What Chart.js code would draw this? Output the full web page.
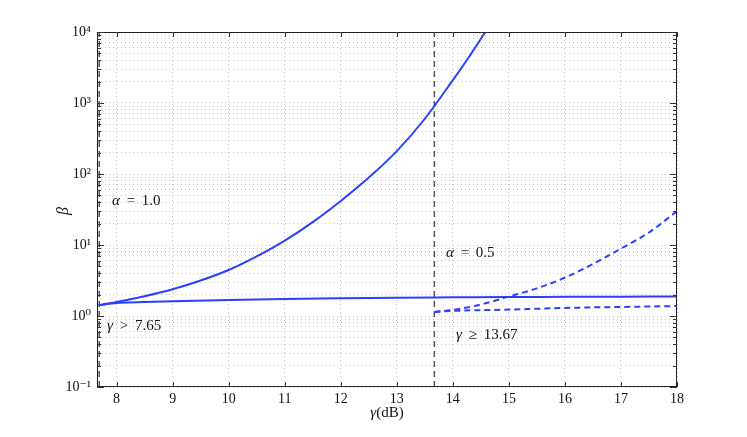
<!DOCTYPE html>
<html>
<head>
<meta charset="utf-8">
<script src="https://cdn.jsdelivr.net/npm/chart.js@4.4.1/dist/chart.umd.min.js"></script>
<style>
html,body{margin:0;padding:0;background:#fff;}
#wrap{width:747px;height:437px;position:relative;}
</style>
</head>
<body>
<div id="wrap"><canvas id="c" width="747" height="437"></canvas></div>
<script>
// ---- data ----
const gammaA1Upper = [7.68, 8, 8.5, 9, 9.5, 10, 10.5, 11, 11.5, 12, 12.5, 13, 13.5, 14, 14.3, 14.58];
const betaA1Upper  = [1.42, 1.58, 1.9, 2.38, 3.16, 4.44, 6.9, 11.5, 21, 41.7, 89, 210, 600, 2100, 4600, 10000];

const gammaA1Lower = [7.68, 8, 8.5, 9, 10, 11, 12, 13, 14, 15, 16, 17, 18];
const betaA1Lower  = [1.42, 1.52, 1.57, 1.61, 1.68, 1.74, 1.78, 1.81, 1.83, 1.85, 1.86, 1.87, 1.88];

const gammaA05Upper = [13.67, 14, 14.5, 15, 15.5, 16, 16.5, 17, 17.5, 18];
const betaA05Upper  = [1.14, 1.22, 1.45, 1.88, 2.45, 3.47, 5.4, 8.9, 15, 30];

const gammaA05Lower = [13.67, 14, 15, 16, 17, 18];
const betaA05Lower  = [1.14, 1.18, 1.23, 1.30, 1.34, 1.38];

const thresholds = [7.69, 13.67];
const xTicks = [8, 9, 10, 11, 12, 13, 14, 15, 16, 17, 18];
const yDecades = [-1, 0, 1, 2, 3, 4];

const BLUE = '#2b40ff';
const sup = {'-':'\u207B','0':'\u2070','1':'\u00B9','2':'\u00B2','3':'\u00B3','4':'\u2074','5':'\u2075','6':'\u2076','7':'\u2077','8':'\u2078','9':'\u2079'};
function pts(xs, ys){ return xs.map((x,i)=>({x:x, y:ys[i]})); }

const datasets = [
  {data: pts(gammaA1Upper, betaA1Upper), borderColor: BLUE, borderWidth: 2},
  {data: pts(gammaA1Lower, betaA1Lower), borderColor: BLUE, borderWidth: 2},
  {data: pts(gammaA05Upper, betaA05Upper), borderColor: BLUE, borderWidth: 2, borderDash: [6,4]},
  {data: pts(gammaA05Lower, betaA05Lower), borderColor: BLUE, borderWidth: 2, borderDash: [6,4]},
];
thresholds.forEach(t => datasets.push({data: [{x:t,y:0.1},{x:t,y:10000}], borderColor:'#555', borderWidth:1.5, borderDash:[6,4], cubicInterpolationMode:'default', tension:0}));
datasets.forEach(d => { d.pointRadius = 0; d.fill = false; if(!d.cubicInterpolationMode) d.cubicInterpolationMode = 'monotone'; });

const yTickVals = [];
yDecades.forEach(k => { for (let m=1;m<=9;m++){ const v = m*Math.pow(10,k); if (v<=10000.0001) yTickVals.push(v); } });

const SERIF = '"Liberation Serif", "DejaVu Serif", serif';

const extras = {
  id: 'extras',
  afterDraw(chart){
    const ctx = chart.ctx, a = chart.chartArea, xs = chart.scales.x, ys = chart.scales.y;
    ctx.save();
    // spines
    ctx.strokeStyle = '#222'; ctx.lineWidth = 1; ctx.setLineDash([]);
    ctx.strokeRect(Math.round(a.left)+0.5, Math.round(a.top)+0.5, Math.round(a.right-a.left)-1, Math.round(a.bottom-a.top)-1);
    // inward ticks
    ctx.strokeStyle = '#333';
    ctx.beginPath();
    xTicks.forEach(v => { const p = Math.round(xs.getPixelForValue(v))+0.5;
      ctx.moveTo(p,a.bottom); ctx.lineTo(p,a.bottom-5); ctx.moveTo(p,a.top); ctx.lineTo(p,a.top+5); });
    yTickVals.forEach(v => { const p = Math.round(ys.getPixelForValue(v))+0.5;
      const major = Math.abs(Math.log10(v) - Math.round(Math.log10(v))) < 1e-6;
      const L = major ? 7 : 4;
      ctx.moveTo(a.left,p); ctx.lineTo(a.left+L,p); ctx.moveTo(a.right,p); ctx.lineTo(a.right-L,p); });
    ctx.stroke();
    // annotations
    ctx.fillStyle = '#111'; ctx.textBaseline = 'middle';
    function label(parts, x, y){
      let cx = x;
      parts.forEach(([t, it]) => { ctx.font = (it?'italic ':'') + '15px ' + SERIF; ctx.fillText(t, cx, y); cx += ctx.measureText(t).width; });
    }
    label([['\u03B1',1],['\u2009 = \u20091.0',0]], 112, 201);
    label([['\u03B3',1],['\u2009 > \u20097.65',0]], 107, 326);
    label([['\u03B1',1],['\u2009 = \u20090.5',0]], 446, 253);
    label([['\u03B3',1],['\u2009 \u2265 \u200913.67',0]], 456, 335);
    // axis titles
    ctx.textAlign = 'left';
    ctx.font = 'italic 15px ' + SERIF;
    const w1 = ctx.measureText('\u03B3').width;
    ctx.font = '15px ' + SERIF;
    const w2 = ctx.measureText('(dB)').width;
    const sx = 387 - (w1+w2)/2;
    ctx.font = 'italic 15px ' + SERIF; ctx.fillText('\u03B3', sx, 413);
    ctx.font = '15px ' + SERIF; ctx.fillText('(dB)', sx+w1, 413);
    ctx.save(); ctx.translate(64, 211); ctx.rotate(-Math.PI/2);
    ctx.textAlign='center'; ctx.font = 'italic 16px ' + SERIF; ctx.fillText('\u03B2', 0, 0);
    ctx.restore();
    ctx.restore();
  }
};

new Chart(document.getElementById('c'), {
  type: 'line',
  data: { datasets },
  options: {
    responsive: false, animation: false, devicePixelRatio: 1,
    layout: { padding: { left: 0, right: 70, top: 32, bottom: 0 } },
    plugins: { legend: { display: false }, tooltip: { enabled: false } },
    scales: {
      x: {
        type: 'linear', min: 7.65, max: 18,
        afterBuildTicks: s => { s.ticks = xTicks.map(v => ({value: v})); },
        afterFit: s => { s.height = 50; },
        grid: { color: '#c4c4c4', lineWidth: 1, drawTicks: false },
        border: { display: false, dash: [1,3] },
        ticks: { padding: 4, color: '#111', font: { family: SERIF, size: 14 }, maxRotation: 0, autoSkip: false }
      },
      y: {
        type: 'logarithmic', min: 0.1, max: 10000,
        afterBuildTicks: s => { s.ticks = yTickVals.map(v => ({value: v})); },
        afterFit: s => { s.width = 97; },
        grid: { color: '#c4c4c4', lineWidth: 1, drawTicks: false },
        border: { display: false, dash: [1,3] },
        ticks: {
          padding: 6, color: '#111', font: { family: SERIF, size: 14 }, autoSkip: false,
          callback: v => {
            const l = Math.log10(v), r = Math.round(l);
            if (Math.abs(l - r) > 1e-6) return '';
            return '10' + String(r).split('').map(c => sup[c]).join('');
          }
        }
      }
    }
  },
  plugins: [extras]
});
</script>
</body>
</html>
